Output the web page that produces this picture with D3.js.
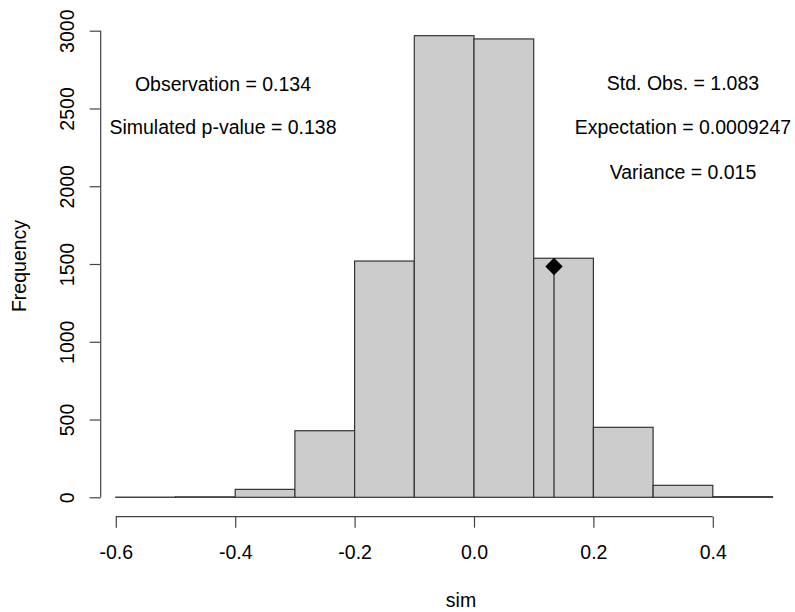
<!DOCTYPE html>
<html>
<head>
<meta charset="utf-8">
<script src="https://cdn.jsdelivr.net/npm/d3@7"></script>
<style>
  html, body { margin: 0; padding: 0; background: #fff; }
  svg { display: block; font-family: "Liberation Sans", Arial, sans-serif; }
</style>
</head>
<body>
<svg id="chart" width="795" height="612"></svg>
<script>
// ---- data ----
const binEdges = [-0.6, -0.5, -0.4, -0.3, -0.2, -0.1, 0.0, 0.1, 0.2, 0.3, 0.4, 0.5];
const counts   = [1, 3, 51, 428, 1519, 2968, 2947, 1537, 450, 77, 4];
const xTicks = [-0.6, -0.4, -0.2, 0.0, 0.2, 0.4];
const xTickLabels = ["-0.6", "-0.4", "-0.2", "0.0", "0.2", "0.4"];
const yTicks = [0, 500, 1000, 1500, 2000, 2500, 3000];
const observation = 0.134;
const leftNotes = ["Observation = 0.134", "Simulated p-value = 0.138"];
const rightNotes = ["Std. Obs. = 1.083", "Expectation = 0.0009247", "Variance = 0.015"];
const xLabel = "sim";
const yLabel = "Frequency";

// ---- layout ----
const svg = d3.select("#chart");
const x = d3.scaleLinear().domain([-0.6, 0.5]).range([115.8, 772.5]);
const y = d3.scaleLinear().domain([0, 3000]).range([497.3, 30.7]);
const yAxisX = 100.7, xAxisY = 516.7;
const fs = 19.5;
const lineCol = "#333";

// bars
const bins = counts.map((c, i) => ({x0: binEdges[i], x1: binEdges[i + 1], c}));
svg.append("g").selectAll("rect").data(bins).join("rect")
  .attr("x", d => x(d.x0))
  .attr("y", d => y(d.c))
  .attr("width", d => x(d.x1) - x(d.x0))
  .attr("height", d => y(0) - y(d.c))
  .attr("fill", "#cccccc")
  .attr("stroke", lineCol)
  .attr("stroke-width", 1.2);

// observation line + diamond at half the max count
const yObs = d3.max(counts) / 2;
svg.append("line")
  .attr("x1", x(observation)).attr("x2", x(observation))
  .attr("y1", y(0)).attr("y2", y(yObs))
  .attr("stroke", lineCol).attr("stroke-width", 1.3);
svg.append("path")
  .attr("transform", `translate(${x(observation)},${y(yObs)})`)
  .attr("d", "M0,-8.7L8.7,0L0,8.7L-8.7,0Z")
  .attr("fill", "#000");

// x axis
const xAxis = d3.axisBottom(x).tickValues(xTicks)
  .tickFormat((d, i) => xTickLabels[i]).tickSize(11).tickSizeOuter(0);
const gx = svg.append("g").attr("transform", `translate(0,${xAxisY})`).call(xAxis);
gx.select(".domain").remove();
gx.append("line").attr("x1", x(xTicks[0])).attr("x2", x(xTicks[xTicks.length - 1]))
  .attr("stroke", "#444").attr("stroke-width", 1.2);
gx.selectAll(".tick line").attr("stroke", "#444").attr("stroke-width", 1.2);
gx.selectAll(".tick text").attr("y", 42.5).attr("dy", 0)
  .attr("fill", "#000").style("font-size", fs + "px")
  .style("font-family", '"Liberation Sans", Arial, sans-serif');

// y axis
const yAxis = d3.axisLeft(y).tickValues(yTicks).tickFormat(d3.format("d")).tickSize(11).tickSizeOuter(0);
const gy = svg.append("g").attr("transform", `translate(${yAxisX},0)`).call(yAxis);
gy.select(".domain").remove();
gy.append("line").attr("y1", y(yTicks[0])).attr("y2", y(yTicks[yTicks.length - 1]))
  .attr("stroke", "#444").attr("stroke-width", 1.2);
gy.selectAll(".tick line").attr("stroke", "#444").attr("stroke-width", 1.2);
gy.selectAll(".tick text")
  .attr("x", 0).attr("dy", 0).attr("text-anchor", "middle")
  .attr("transform", `translate(${74 - yAxisX},0) rotate(-90)`)
  .attr("fill", "#000").style("font-size", fs + "px")
  .style("font-family", '"Liberation Sans", Arial, sans-serif');

// axis titles
svg.append("text").attr("x", 461).attr("y", 607).attr("text-anchor", "middle")
  .style("font-size", fs + "px").text(xLabel);
svg.append("text").attr("transform", "translate(26,266) rotate(-90)")
  .attr("text-anchor", "middle").style("font-size", fs + "px").text(yLabel);

// annotations
const leftPos = [[223, 91], [223, 134]];
const rightPos = [[683, 90], [683, 134], [683, 179]];
leftNotes.forEach((t, i) => svg.append("text").attr("x", leftPos[i][0]).attr("y", leftPos[i][1])
  .attr("text-anchor", "middle").style("font-size", fs + "px").text(t));
rightNotes.forEach((t, i) => svg.append("text").attr("x", rightPos[i][0]).attr("y", rightPos[i][1])
  .attr("text-anchor", "middle").style("font-size", fs + "px").text(t));
</script>
</body>
</html>
